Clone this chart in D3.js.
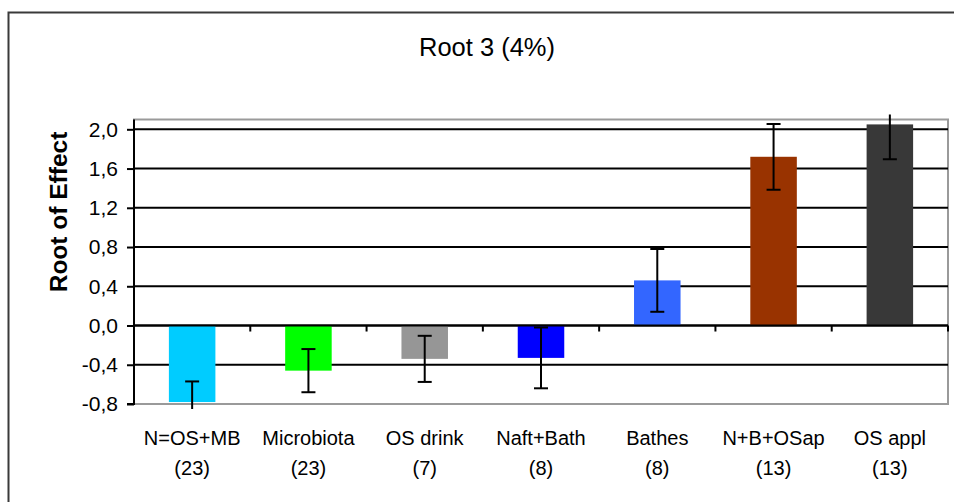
<!DOCTYPE html>
<html>
<head>
<meta charset="utf-8">
<script src="https://cdn.jsdelivr.net/npm/d3@7"></script>
<style>
  html, body { margin: 0; padding: 0; background: #fff; }
  svg { display: block; }
  text { font-family: "Liberation Sans", Arial, sans-serif; fill: #000; }
</style>
</head>
<body>
<svg id="chart" width="954" height="502"></svg>
<script>
// Mean root of effect per treatment group, with error half-widths
const categories = ["N=OS+MB", "Microbiota", "OS drink", "Naft+Bath", "Bathes", "N+B+OSap", "OS appl"];
const counts = [23, 23, 7, 8, 8, 13, 13];
const values = [-0.78, -0.46, -0.34, -0.33, 0.46, 1.72, 2.05];
const errors = [0.21, 0.22, 0.235, 0.31, 0.32, 0.335, 0.355];
const colors = ["#00CCFF", "#00FF00", "#969696", "#0000FF", "#3366FF", "#993300", "#383838"];
const yTicks = [-0.8, -0.4, 0.0, 0.4, 0.8, 1.2, 1.6, 2.0];
const yDomain = [-0.8, 2.1];
const title = "Root 3 (4%)";
const yTitle = "Root of Effect";

const rows = categories.map((c, i) => ({ cat: c, n: counts[i], v: values[i], e: errors[i], color: colors[i] }));

const svg = d3.select("#chart");
const plot = { left: 134, right: 948, top: 119.5, bottom: 404 };

const x = d3.scaleBand().domain(categories).range([plot.left, plot.right]).paddingInner(0).paddingOuter(0);
const y = d3.scaleLinear().domain(yDomain).range([plot.bottom, plot.top]);
const barW = x.bandwidth() / 2.5;

const locale = d3.formatLocale({ decimal: ",", thousands: ".", grouping: [3], currency: ["", ""], minus: "-" });
const fmt = locale.format(".1f");

// outer chart frame
svg.append("path")
  .attr("d", `M8.5,${502} L8.5,12.5 L954,12.5`)
  .attr("fill", "none").attr("stroke", "#3a3a3a").attr("stroke-width", 2);

// title
svg.append("text")
  .attr("x", 487).attr("y", 56)
  .attr("text-anchor", "middle")
  .style("font-size", "25.5px")
  .text(title);

// plot area border
svg.append("rect")
  .attr("x", plot.left).attr("y", plot.top)
  .attr("width", plot.right - plot.left).attr("height", plot.bottom - plot.top)
  .attr("fill", "none").attr("stroke", "#9a9a9a").attr("stroke-width", 2);

// horizontal gridlines
svg.append("g")
  .selectAll("line")
  .data(yTicks.filter(t => t > yDomain[0]))
  .join("line")
  .attr("x1", plot.left).attr("x2", plot.right)
  .attr("y1", d => y(d)).attr("y2", d => y(d))
  .attr("stroke", "#000").attr("stroke-width", 2);

// bars
svg.append("g")
  .selectAll("rect")
  .data(rows)
  .join("rect")
  .attr("x", d => x(d.cat) + (x.bandwidth() - barW) / 2)
  .attr("width", barW)
  .attr("y", d => y(Math.max(0, d.v)))
  .attr("height", d => Math.abs(y(d.v) - y(0)))
  .attr("fill", d => d.color);

// category axis along zero
const xAxisG = svg.append("g").attr("transform", `translate(0,${y(0)})`);
xAxisG.append("line")
  .attr("x1", plot.left).attr("x2", plot.right)
  .attr("stroke", "#000").attr("stroke-width", 2);
xAxisG.selectAll("line.tick")
  .data(categories.map((c, i) => i + 1))
  .join("line").attr("class", "tick")
  .attr("x1", i => plot.left + i * x.bandwidth())
  .attr("x2", i => plot.left + i * x.bandwidth())
  .attr("y1", 0).attr("y2", 6)
  .attr("stroke", "#000").attr("stroke-width", 2);

// error bars, clipped a little beyond the plot area
svg.append("clipPath").attr("id", "errclip")
  .append("rect")
  .attr("x", plot.left).attr("y", plot.top - 5)
  .attr("width", plot.right - plot.left).attr("height", plot.bottom - plot.top + 10);

const errG = svg.append("g").attr("clip-path", "url(#errclip)")
  .selectAll("g").data(rows).join("g")
  .attr("stroke", "#000").attr("stroke-width", 2);
const cx = d => x(d.cat) + x.bandwidth() / 2;
errG.append("line")
  .attr("x1", cx).attr("x2", cx)
  .attr("y1", d => y(d.v + d.e)).attr("y2", d => y(d.v - d.e));
errG.append("line")
  .attr("x1", d => cx(d) - 7).attr("x2", d => cx(d) + 7)
  .attr("y1", d => y(d.v + d.e)).attr("y2", d => y(d.v + d.e));
errG.append("line")
  .attr("x1", d => cx(d) - 7).attr("x2", d => cx(d) + 7)
  .attr("y1", d => y(d.v - d.e)).attr("y2", d => y(d.v - d.e));

// value axis
const yAxis = d3.axisLeft(y).tickValues(yTicks).tickFormat(fmt).tickSize(7).tickPadding(9);
const yAxisG = svg.append("g").attr("transform", `translate(${plot.left},0)`).call(yAxis);
yAxisG.select(".domain").attr("stroke", "#000").attr("stroke-width", 2)
  .attr("d", `M-7,${y(yDomain[0])}H0V${plot.top}`);
yAxisG.selectAll(".tick line").attr("stroke", "#000").attr("stroke-width", 2);
yAxisG.selectAll(".tick text")
  .style("font-size", "21px").style("font-family", "'Liberation Sans', Arial, sans-serif")
  .attr("fill", "#000");

// value axis title
svg.append("text")
  .attr("transform", `translate(67,212) rotate(-90)`)
  .attr("text-anchor", "middle")
  .style("font-size", "24.5px").style("font-weight", "bold")
  .text(yTitle);

// category labels with group sizes
const labels = svg.append("g").selectAll("text").data(rows).join("text")
  .attr("text-anchor", "middle")
  .style("font-size", "20px");
labels.append("tspan").attr("x", cx).attr("y", 445).text(d => d.cat);
labels.append("tspan").attr("x", cx).attr("y", 475).text(d => `(${d.n})`);
</script>
</body>
</html>
